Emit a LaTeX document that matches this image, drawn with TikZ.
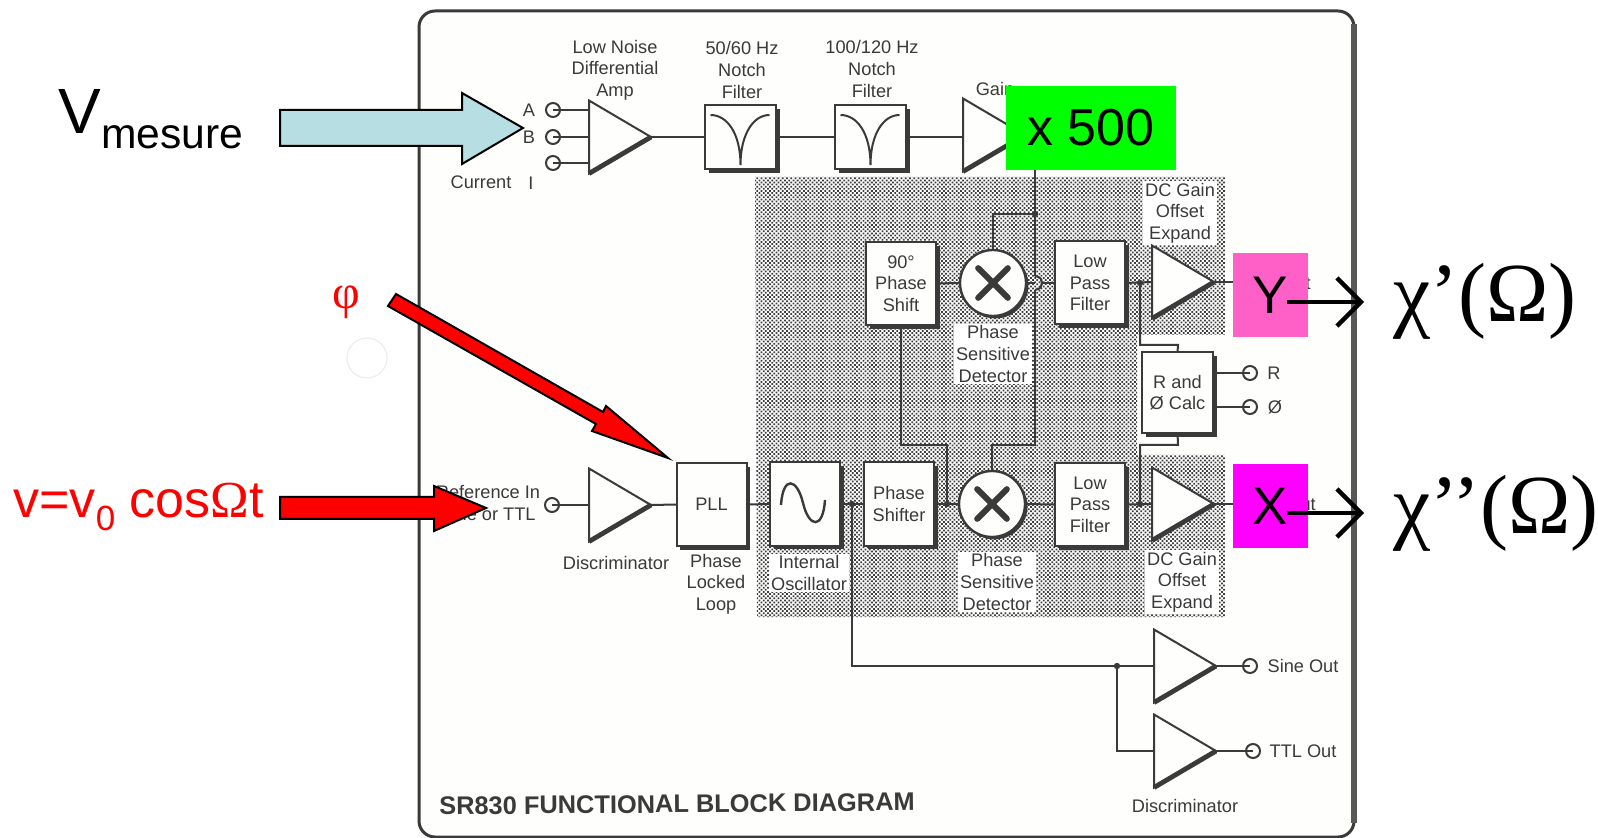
\documentclass[tikz,border=0pt]{standalone}
\usepackage{fontspec}
\setmainfont{Liberation Sans}
\newfontfamily\serifgk{Liberation Serif}
\usetikzlibrary{arrows.meta,shapes.geometric,shadows,patterns.meta}
\definecolor{diagramInk}{RGB}{58,58,58}
\definecolor{paperTint}{RGB}{254,254,252}
\definecolor{panelGray}{RGB}{60,60,60}
\definecolor{arrowBlue}{RGB}{183,222,226}
\definecolor{yPink}{RGB}{255,96,200}
\definecolor{xMagenta}{RGB}{255,0,255}
\tikzset{
  wire/.style={draw=diagramInk,line width=1pt},
  lbl/.style={font=\fontsize{9.1}{10.8}\selectfont,align=center,text=diagramInk,inner sep=1pt,outer sep=0pt},
  lblback/.style={lbl,fill=white},
  stagebox/.style={draw=diagramInk,line width=1pt,fill=paperTint,minimum width=35pt,minimum height=41.5pt,
    inner sep=0pt,outer sep=0pt,lbl,inner sep=0pt,
    drop shadow={shadow xshift=1.8pt,shadow yshift=-1.8pt,fill=diagramInk,opacity=1}},
  notchbox/.style={stagebox,minimum width=35.5pt,minimum height=32pt},
  mixer/.style={circle,draw=diagramInk,line width=1.2pt,fill=paperTint,minimum size=33pt,inner sep=0pt,outer sep=0pt,
    drop shadow={shadow xshift=1.2pt,shadow yshift=-1.2pt,fill=diagramInk,opacity=1}},
  amp/.style={isosceles triangle,isosceles triangle stretches,shape border rotate=0,draw=diagramInk,line width=1pt,
    fill=paperTint,minimum height=31pt,minimum width=36.5pt,inner sep=0pt,outer sep=0pt,anchor=lower side},
  ampedge/.style={draw=diagramInk,line width=2.4pt},
  terminal/.style={circle,draw=diagramInk,line width=1pt,minimum size=7pt,inner sep=0pt,outer sep=0pt},
  junction/.style={circle,fill=diagramInk,minimum size=3.2pt,inner sep=0pt,outer sep=0pt},
  blockarrow/.style={draw=black,line width=1pt,line join=miter},
  outbox/.style={minimum width=37.5pt,minimum height=42pt,inner sep=0pt,outer sep=0pt,
    font=\fontsize{26.5}{30}\selectfont,text=black},
  bigout/.style={font=\serifgk\fontsize{42}{48}\selectfont,text=black,anchor=base west,inner sep=0pt,outer sep=0pt},
  outarrow/.style={draw=black,line width=1.8pt,-{Straight Barb[length=12pt,width=24pt,line width=2.2pt]}}
}
\begin{document}
\begin{tikzpicture}[x=0.5pt,y=-0.5pt]
  \useasboundingbox (0,0) rectangle (1598,838);
  \fill[white] (0,0) rectangle (1598,838);
  \node[circle,draw=black!8,line width=0.5pt,minimum size=20pt] (paperDot) at (367,358) {};

  % instrument outline and shaded zone
  \draw[draw=diagramInk,line width=1.5pt,fill=paperTint,rounded corners=8pt] (419,11) rectangle (1354,837);
  \draw[draw=diagramInk!85,line width=2.6pt] (1354,24) -- (1354,823);
  \path[fill=white,postaction={pattern={Dots[distance=1.5pt,radius=0.62pt,angle=45]},pattern color=panelGray}]
    (755,177) -- (1225,177) -- (1225,335) -- (1137,335) -- (1137,455) -- (1225,455)
    -- (1225,617) -- (757,617) -- cycle;

  % current / voltage inputs
  \node[terminal] (inA) at (553,110) {};
  \node[terminal] (inB) at (553,137) {};
  \node[terminal] (inI) at (553,163) {};
  \node[lbl] (labA) at (529,110) {A};
  \node[lbl] (labB) at (529,137) {B};
  \node[lbl] (labCurrent) at (481,182) {Current};
  \node[lbl] (labI) at (531,183) {I};

  \node[amp] (ampIn) at (589,137) {};
  \node[lbl] (labAmpIn) at (615,70) {Low Noise\\Differential\\Amp};
  \node[notchbox] (notchA) at (740.5,137) {};
  \node[lbl] (labNotchA) at (742,70) {50/60 Hz\\Notch\\Filter};
  \node[notchbox] (notchB) at (870.5,137) {};
  \node[lbl] (labNotchB) at (872,69) {100/120 Hz\\Notch\\Filter};
  \node[amp] (ampGain) at (963,135) {};
  \node[lbl] (labGain) at (995,89) {Gain};
  \coordinate (gainTap) at (1035,165);

  % quadrature channel
  \node[lblback] (labDcA) at (1180,213) {DC Gain\\Offset\\Expand};
  \node[stagebox,align=center] (shiftQ) at (901,283.5) {90°\\Phase\\Shift};
  \node[mixer] (psdA) at (993,283) {};
  \node[lblback] (labPsdA) at (993,354) {Phase\\Sensitive\\Detector};
  \node[stagebox,align=center] (lpfA) at (1090,283) {Low\\Pass\\Filter};
  \node[amp] (ampY) at (1152,282) {};
  \node[lbl] (labOutY) at (1296,283) {Out};
  \node[junction] (jGain) at (1035,214) {};
  \node[junction] (jLpfA) at (1140,283) {};
  \coordinate (hopIn) at (1035,283);
  \coordinate (hopOut) at (1042,283);
  \coordinate (hopTop) at (1035,276);
  \coordinate (hopEnd) at (1035,290);
  \coordinate (wireTurn) at (1035,445);

  % R and phase
  \node[stagebox,align=center,minimum width=35.5pt,minimum height=40.5pt] (calc) at (1177.5,392.5) {R and\\Ø Calc};
  \node[terminal] (outR) at (1250,373) {};
  \node[terminal] (outPhi) at (1250,407) {};
  \node[lbl] (labR) at (1274,373) {R};
  \node[lbl] (labPhi) at (1275,407) {Ø};

  % reference chain
  \node[lbl] (labRef) at (488,503) {Reference In\\Sine or TTL};
  \node[terminal] (inRef) at (552,505) {};
  \node[amp] (ampRef) at (589,505) {};
  \node[lbl] (labDiscA) at (616,563) {Discriminator};
  \node[stagebox] (pll) at (711.5,504.5) {PLL};
  \node[lbl] (labPll) at (716,584) {Phase\\Locked\\Loop};
  \node[stagebox] (osc) at (805,504) {};
  \node[lblback] (labOsc) at (809,573) {Internal\\Oscillator};
  \node[stagebox,align=center] (shiftI) at (899,504) {Phase\\Shifter};
  \node[junction] (jOsc) at (852,504) {};
  \node[junction] (jShift) at (947,504) {};
  \node[mixer] (psdB) at (992,504) {};
  \node[lblback] (labPsdB) at (997,582) {Phase\\Sensitive\\Detector};
  \node[stagebox,align=center] (lpfB) at (1090,504.5) {Low\\Pass\\Filter};
  \node[amp] (ampX) at (1152,504) {};
  \node[junction] (jLpfB) at (1140,504) {};
  \node[lblback] (labDcB) at (1182,582) {DC Gain\\Offset\\Expand};
  \node[lbl] (labOutX) at (1301,504) {Out};

  % sine and ttl outs
  \node[amp] (ampSine) at (1154,666) {};
  \node[terminal] (outSine) at (1250,666) {};
  \node[lbl] (labSine) at (1303,666) {Sine Out};
  \node[amp] (ampTtl) at (1154,751) {};
  \node[terminal] (outTtl) at (1253,751) {};
  \node[lbl] (labTtl) at (1303,751) {TTL Out};
  \node[lbl] (labDiscB) at (1185,806) {Discriminator};
  \node[junction] (jSine) at (1117,666) {};
  \node[lbl,font=\bfseries\fontsize{12.7}{15}\selectfont,rotate=0.5] (title) at (677,804) {SR830 FUNCTIONAL BLOCK DIAGRAM};

  % connections
  \foreach \t in {inA,inB,inI} {
    \draw[wire] (\t.center) -- (\t.center -| ampIn.lower side);
  }
  \draw[wire] (ampIn.apex) -- (notchA.west);
  \draw[wire] (notchA.east) -- (notchB.west);
  \draw[wire] (notchB.east) -- (notchB.east -| ampGain.lower side);
  \draw[wire] (gainTap) -- (jGain) -- (hopTop);
  \draw[wire] (jGain) -| (psdA.north);
  \draw[wire] (hopEnd) -- (wireTurn) -| (psdB.north);
  \draw[wire] (hopTop) .. controls (1041,277) and (1042,280) .. (hopOut) .. controls (1042,286) and (1041,289) .. (hopEnd);
  \draw[wire] (shiftQ.east) -- (psdA.west);
  \draw[wire] (psdA.east) -- (hopIn);
  \draw[wire] (hopOut) -- (lpfA.west);
  \draw[wire] (lpfA.east) -- (ampY.lower side);
  \draw[wire] (jLpfA) |- (1178,345) -- (calc.north);
  \draw[wire] (calc.south) -- (1178,445) -| (jLpfB);
  \draw[wire] (calc.east |- outR) -- (outR.center);
  \draw[wire] (calc.east |- outPhi) -- (outPhi.center);
  \draw[wire] (inRef.center) -- (ampRef.lower side);
  \draw[wire] (ampRef.apex) -- (pll.west);
  \draw[wire] (pll.east) -- (osc.west);
  \draw[wire] (osc.east) -- (shiftI.west);
  \draw[wire] (shiftI.east) -- (psdB.west);
  \draw[wire] (shiftQ.south) |- (947,445) -- (jShift);
  \draw[wire] (psdB.east) -- (lpfB.west);
  \draw[wire] (lpfB.east) -- (ampX.lower side);
  \draw[wire] (jOsc) |- (ampSine.lower side);
  \draw[wire] (jSine) |- (ampTtl.lower side);
  \draw[wire] (ampSine.apex) -- (outSine.center);
  \draw[wire] (ampTtl.apex) -- (outTtl.center);
  \coordinate (yStub) at (1240,282);
  \coordinate (xStub) at (1240,504);
  \draw[wire] (ampY.apex) -- (yStub);
  \draw[wire] (ampX.apex) -- (xStub);

  % inner glyphs and heavy amp edges
  \foreach \f in {notchA,notchB} {
    \draw[wire,shift={(\f.center)}] (-30,-22) .. controls (-13,-22) and (0,-3) .. (0,28)
      .. controls (0,-3) and (13,-22) .. (29,-22);
  }
  \draw[wire,line width=1.2pt,shift={(osc.center)}] (-24,1) .. controls (-22,-29) and (-8,-26) .. (-2,-1)
    .. controls (4,24) and (18,26) .. (20,-4);
  \foreach \m in {psdA,psdB} {
    \draw[draw=diagramInk,line width=3pt,line cap=round,shorten >=6pt,shorten <=6pt] (\m.north east) -- (\m.south west);
    \draw[draw=diagramInk,line width=3pt,line cap=round,shorten >=6pt,shorten <=6pt] (\m.north west) -- (\m.south east);
  }
  \foreach \a in {ampIn,ampGain,ampY,ampRef,ampX,ampSine,ampTtl} {
    \draw[ampedge] (\a.apex) -- (\a.right corner);
  }

  % annotations laid over the scan
  \node[fill=green,minimum width=85pt,minimum height=42pt,inner sep=0pt,font=\fontsize{26}{30}\selectfont,text=black] (xGain) at (1091,128) {\raisebox{-1pt}{x 500}};
  \node[outbox,fill=yPink] (yOut) at (1270.5,295) {\raisebox{-.5pt}{Y}};
  \node[outbox,fill=xMagenta] (xOut) at (1270.5,506) {\raisebox{-.5pt}{X}};
  \coordinate (yTail) at (1287,302);
  \coordinate (yTip) at (1364,302);
  \coordinate (xTail) at (1287,513);
  \coordinate (xTip) at (1364,513);
  \draw[outarrow] (yTail) -- (yTip);
  \draw[outarrow] (xTail) -- (xTip);
  \node[bigout] (chiY) at (1393,322) {χ’(Ω)};
  \node[bigout] (chiX) at (1393,533) {χ’’(Ω)};

  \draw[blockarrow,fill=arrowBlue] (280,110) -- (462,110) -- (462,93) -- (523,128) -- (462,164) -- (462,146) -- (280,146) -- cycle;
  \draw[blockarrow,fill=red] (280,497) -- (434,497) -- (434,486) -- (486,508) -- (434,531) -- (434,519) -- (280,519) -- cycle;
  \draw[blockarrow,fill=red] (396,294) -- (603,412) -- (606,406) -- (668,458) -- (592,431) -- (596,424) -- (388,306) -- cycle;

  \node[anchor=base west,inner sep=0pt,text=black] (vMeasure) at (58,134)
    {\fontsize{32}{36}\selectfont V\raisebox{-7.5pt}{\fontsize{21.3}{24}\selectfont mesure}};
  \node[anchor=base west,inner sep=0pt,text=red] (vRef) at (13,517)
    {\fontsize{26}{30}\selectfont v=v\raisebox{-6.5pt}{\fontsize{17.5}{20}\selectfont 0} cos{\serifgk Ω}t};
  \node[inner sep=0pt,text=red,font=\serifgk\fontsize{24}{28}\selectfont] (phiRef) at (346,302) {φ};
\end{tikzpicture}
\end{document}
